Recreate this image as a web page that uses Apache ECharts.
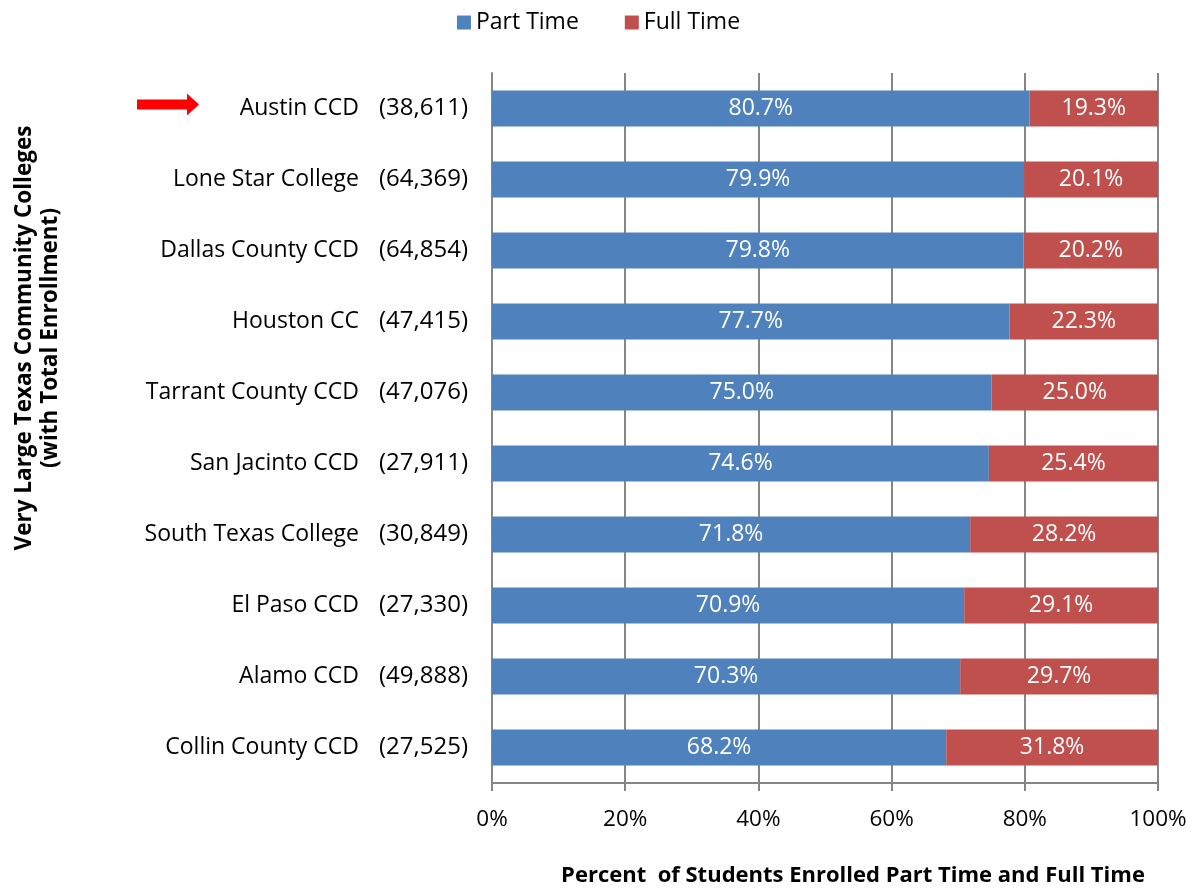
<!DOCTYPE html>
<html>
<head>
<meta charset="utf-8">
<script src="https://cdn.jsdelivr.net/npm/echarts@6/dist/echarts.min.js"></script>
<style>html,body{margin:0;padding:0;background:#fff}#c{width:1197px;height:888px}</style>
</head>
<body>
<div id="c"></div>
<script>
const colleges = ['Austin CCD','Lone Star College','Dallas County CCD','Houston CC','Tarrant County CCD','San Jacinto CCD','South Texas College','El Paso CCD','Alamo CCD','Collin County CCD'];
const enrollment = ['(38,611)','(64,369)','(64,854)','(47,415)','(47,076)','(27,911)','(30,849)','(27,330)','(49,888)','(27,525)'];
const partTime = [80.7,79.9,79.8,77.7,75.0,74.6,71.8,70.9,70.3,68.2];
const fullTime = [19.3,20.1,20.2,22.3,25.0,25.4,28.2,29.1,29.7,31.8];
const xTicks = [0,20,40,60,80,100];
const highlighted = 'Austin CCD';

const FONT = 'Open Sans';
const chart = echarts.init(document.getElementById('c'), null, {renderer:'canvas'});
const labelMap = {};
colleges.forEach((c,i)=>labelMap[c]=enrollment[i]);

const option = {
  animation:false,
  textStyle:{fontFamily:FONT},
  legend:{
    top:6, left:'center', itemWidth:14, itemHeight:14, itemGap:46,
    icon:'rect',
    textStyle:{fontFamily:FONT,fontSize:23,color:'#000'},
    data:['Part Time','Full Time']
  },
  grid:{left:492,right:39,top:73,bottom:105,containLabel:false},
  xAxis:{
    type:'value', min:xTicks[0], max:xTicks[xTicks.length-1], interval:20,
    axisLine:{show:true,lineStyle:{color:'#868686',width:2}},
    axisTick:{show:true,length:8,lineStyle:{color:'#868686',width:2}},
    splitLine:{show:true,lineStyle:{color:'#868686',width:2}},
    axisLabel:{formatter:'{value}%',fontFamily:FONT,fontSize:22.5,color:'#000',margin:25}
  },
  yAxis:{
    type:'category', data:colleges, inverse:true,
    axisLine:{show:true,lineStyle:{color:'#868686',width:2}},
    axisTick:{show:false},
    splitLine:{show:false},
    axisLabel:{
      margin:24,
      formatter:function(v){return '{n|'+v+'}{c|'+labelMap[v]+'}';},
      rich:{
        n:{fontFamily:FONT,fontSize:23,color:'#000'},
        c:{fontFamily:FONT,fontSize:24,color:'#000',width:109,align:'right'}
      }
    }
  },
  series:[
    {name:'Part Time',type:'bar',stack:'t',data:partTime,barWidth:36,
     itemStyle:{color:'#4F81BD'},
     label:{show:true,position:'inside',color:'#fff',fontFamily:FONT,fontSize:23,
       formatter:p=>p.value.toFixed(1)+'%'}},
    {name:'Full Time',type:'bar',stack:'t',data:fullTime,barWidth:36,
     itemStyle:{color:'#C0504D'},
     label:{show:true,position:'inside',color:'#fff',fontFamily:FONT,fontSize:23,
       formatter:p=>p.value.toFixed(1)+'%'}}
  ]
};
chart.setOption(option);

const ay = chart.convertToPixel({yAxisIndex:0}, highlighted) - 4;
chart.setOption({
  graphic:[
    {type:'polygon',shape:{points:[[137,ay-5],[187,ay-5],[187,ay-11],[199,ay],[187,ay+11],[187,ay+5],[137,ay+5]]},
     style:{fill:'#FF0000'}},
    {type:'text',x:38,y:338,rotation:Math.PI/2,
     style:{text:'Very Large Texas Community Colleges\n(with Total Enrollment)',fontFamily:FONT,fontWeight:'bold',fontSize:22.5,
       fill:'#000',align:'center',verticalAlign:'middle',lineHeight:26}},
    {type:'text',x:853,y:876,
     style:{text:'Percent  of Students Enrolled Part Time and Full Time',fontFamily:FONT,fontWeight:'bold',fontSize:22,
       fill:'#000',align:'center',verticalAlign:'middle'}}
  ]
});
</script>
</body>
</html>
